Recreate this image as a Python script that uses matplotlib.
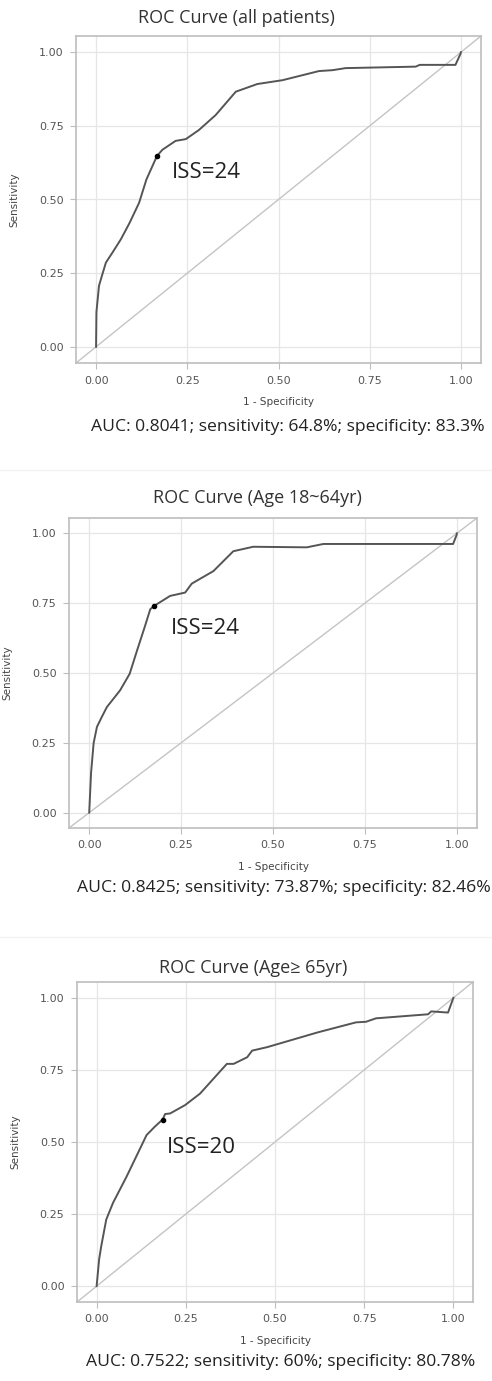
import matplotlib
matplotlib.use("Agg")
import matplotlib.pyplot as plt

# ROC curves (x = 1 - specificity, y = sensitivity)
all_fpr = [0.0, 0.001, 0.008, 0.016, 0.027, 0.045, 0.068, 0.092, 0.118, 0.138, 0.167,
           0.182, 0.218, 0.246, 0.282, 0.328, 0.383, 0.442, 0.511, 0.611, 0.648, 0.684,
           0.876, 0.887, 0.985, 0.999, 1.0]
all_tpr = [0.0, 0.118, 0.207, 0.241, 0.286, 0.32, 0.365, 0.421, 0.489, 0.568, 0.648,
           0.669, 0.699, 0.705, 0.736, 0.787, 0.866, 0.892, 0.905, 0.936, 0.939, 0.946,
           0.951, 0.957, 0.957, 0.995, 1.0]

young_fpr = [0.0, 0.005, 0.012, 0.021, 0.034, 0.048, 0.084, 0.11, 0.13, 0.152, 0.166,
             0.175, 0.22, 0.261, 0.279, 0.338, 0.392, 0.446, 0.592, 0.637, 0.99, 1.0, 1.0]
young_tpr = [0.0, 0.142, 0.249, 0.307, 0.342, 0.378, 0.438, 0.497, 0.58, 0.669, 0.728,
             0.739, 0.776, 0.788, 0.82, 0.865, 0.936, 0.952, 0.95, 0.962, 0.962, 0.996, 1.0]

old_fpr = [0.0, 0.007, 0.013, 0.027, 0.046, 0.084, 0.14, 0.163, 0.185, 0.192, 0.206,
           0.248, 0.29, 0.365, 0.384, 0.422, 0.436, 0.478, 0.619, 0.727, 0.755, 0.783,
           0.929, 0.938, 0.985, 1.0]
old_tpr = [0.0, 0.093, 0.139, 0.231, 0.289, 0.38, 0.524, 0.553, 0.578, 0.597, 0.599,
           0.628, 0.668, 0.771, 0.771, 0.794, 0.817, 0.829, 0.88, 0.915, 0.917, 0.929,
           0.943, 0.953, 0.949, 1.0]

cut_points = [(0.167, 0.648), (0.175, 0.739), (0.185, 0.578)]
cut_labels = ["ISS=24", "ISS=24", "ISS=20"]
label_pos = [(0.208, 0.59), (0.223, 0.66), (0.197, 0.48)]

titles = ["ROC Curve (all patients)", "ROC Curve (Age 18~64yr)", "ROC Curve (Age\u2265 65yr)"]
notes = ["AUC: 0.8041; sensitivity: 64.8%; specificity: 83.3%",
         "AUC: 0.8425; sensitivity: 73.87%; specificity: 82.46%",
         "AUC: 0.7522; sensitivity: 60%; specificity: 80.78%"]
ticks = [0.0, 0.25, 0.5, 0.75, 1.0]
tick_labels = ["0.00", "0.25", "0.50", "0.75", "1.00"]

W, H = 492, 1381
# axes boxes in pixels: left, top, right, bottom
boxes = [(76, 36, 481, 363), (69, 518, 477, 828), (77, 982, 473, 1302)]
title_xy = [(138, 18), (153, 498), (159, 968)]
note_xy = [(91, 427), (77, 888), (86, 1362)]

txt_font = ["Open Sans", "DejaVu Sans"]


def main():
    fig = plt.figure(figsize=(W / 100, H / 100), dpi=100)
    curves = [(all_fpr, all_tpr), (young_fpr, young_tpr), (old_fpr, old_tpr)]

    # faint separators between the stacked panels
    for yy in (470, 937):
        fig.add_artist(plt.Line2D([0, 1], [1 - yy / H] * 2, color="#f2f2f2", linewidth=1))

    for i, (fpr, tpr) in enumerate(curves):
        l, t, r, b = boxes[i]
        ax = fig.add_axes([l / W, 1 - b / H, (r - l) / W, (b - t) / H])
        ax.set_xlim(-0.055, 1.055)
        ax.set_ylim(-0.055, 1.055)
        ax.grid(True, color="#e6e6e6", linewidth=0.9)
        ax.set_axisbelow(True)
        for s in ax.spines.values():
            s.set_color("#bdbdbd")
            s.set_linewidth(1.2)
        ax.plot([-0.055, 1.055], [-0.055, 1.055], color="#c4c4c4", linewidth=1.0)
        ax.plot(fpr, tpr, color="#555555", linewidth=1.4)
        ax.plot(*cut_points[i], "o", color="black", markersize=3)
        ax.text(label_pos[i][0], label_pos[i][1], cut_labels[i], fontsize=16,
                family=txt_font, color="#222222", va="center", ha="left")
        ax.set_xticks(ticks)
        ax.set_xticklabels(tick_labels)
        ax.set_yticks(ticks)
        ax.set_yticklabels(tick_labels)
        ax.tick_params(labelsize=8, colors="#bdbdbd", labelcolor="#555555",
                       length=4, width=0.8, pad=5)
        ax.set_xlabel("1 - Specificity", fontsize=7.5, color="#444444", labelpad=8)
        ax.set_ylabel("Sensitivity", fontsize=7.5, color="#444444", labelpad=14)

        fig.text(title_xy[i][0] / W, 1 - title_xy[i][1] / H, titles[i], fontsize=13,
                 family=txt_font, color="#333333", ha="left", va="center")
        fig.text(note_xy[i][0] / W, 1 - note_xy[i][1] / H, notes[i], fontsize=12.6,
                 family=txt_font, color="#222222", ha="left", va="center")

    fig.savefig("out.png", dpi=100)
    plt.close(fig)


if __name__ == "__main__":
    main()
